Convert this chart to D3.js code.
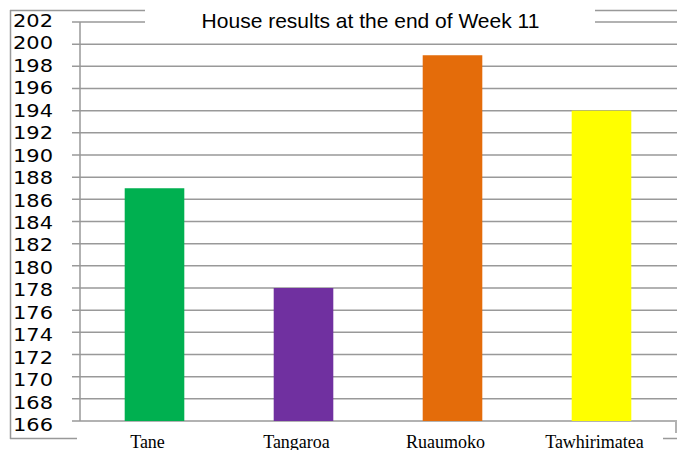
<!DOCTYPE html>
<html>
<head>
<meta charset="utf-8">
<script src="https://cdn.jsdelivr.net/npm/d3@7"></script>
<style>
  body { margin: 0; background: #fff; }
</style>
</head>
<body>
<div id="chart"></div>
<script>
// Data
const houses = ['Tane', 'Tangaroa', 'Ruaumoko', 'Tawhirimatea']
const points = [187, 178, 199, 194]
const colors = ['#00b050', '#7030a0', '#e46c0a', '#ffff00']
const yTicks = d3.range(166, 203, 2)
const title = 'House results at the end of Week 11'

// Dimensions
const width = 677
const height = 450
const plot = { left: 80, right: 676, top: 22, bottom: 421 }
const gridColor = '#999'

const svg = d3.select('#chart')
  .append('svg')
  .attr('width', width)
  .attr('height', height)

// Scales
const xScale = d3.scaleBand()
  .domain(houses)
  .range([plot.left, plot.right])
  .paddingInner(0.6)
  .paddingOuter(0.3)

const yScale = d3.scaleLinear()
  .domain([166, 202])
  .range([plot.bottom, plot.top])

// the tick labels sit on a slightly different spacing than the grid
const labelScale = d3.scaleLinear()
  .domain([166, 202])
  .range([431, 27])

// outer frame (only parts of it show)
const frame = svg.append('g')
  .attr('stroke', gridColor)
  .attr('stroke-width', 1.5)
frame.append('line').attr('x1', 10).attr('x2', 677).attr('y1', 10.5).attr('y2', 10.5)
frame.append('line').attr('x1', 10.5).attr('x2', 10.5).attr('y1', 10).attr('y2', 439)
frame.append('line').attr('x1', 10).attr('x2', 677).attr('y1', 438.5).attr('y2', 438.5)
frame.append('line').attr('x1', 676).attr('x2', 676).attr('y1', 422).attr('y2', 433)

// gridlines + ticks
const grid = svg.append('g')
grid.selectAll('line.grid')
  .data(yTicks)
  .join('line')
  .attr('class', 'grid')
  .attr('x1', plot.left - 8)
  .attr('x2', width)
  .attr('y1', d => yScale(d))
  .attr('y2', d => yScale(d))
  .attr('stroke', gridColor)
  .attr('stroke-width', 1.5)

// y axis line
svg.append('line')
  .attr('x1', plot.left)
  .attr('x2', plot.left)
  .attr('y1', yScale(202))
  .attr('y2', yScale(166))
  .attr('stroke', gridColor)
  .attr('stroke-width', 1.5)

// bars
svg.append('g')
  .selectAll('rect')
  .data(points)
  .join('rect')
  .attr('x', (d, i) => xScale(houses[i]))
  .attr('width', xScale.bandwidth())
  .attr('y', d => yScale(d))
  .attr('height', d => yScale(166) - yScale(d))
  .attr('fill', (d, i) => colors[i])

// y tick labels
svg.append('g')
  .selectAll('text')
  .data(yTicks)
  .join('text')
  .attr('x', 13)
  .attr('y', d => labelScale(d))
  .attr('textLength', 40)
  .attr('lengthAdjust', 'spacingAndGlyphs')
  .style('font-family', 'DejaVu Sans, sans-serif')
  .style('font-size', '17px')
  .attr('fill', '#000')
  .text(d => d)

// title box hides the frame and top grid line behind it
svg.append('rect')
  .attr('x', 145).attr('y', 0)
  .attr('width', 450).attr('height', 33)
  .attr('fill', '#fff')
svg.append('text')
  .attr('x', 370.5)
  .attr('y', 28)
  .attr('text-anchor', 'middle')
  .style('font-family', 'Liberation Sans, Arial, sans-serif')
  .style('font-size', '21px')
  .attr('fill', '#000')
  .text(title)

// category label box
svg.append('rect')
  .attr('x', 77).attr('y', 424)
  .attr('width', 586).attr('height', 26)
  .attr('fill', '#fff')
svg.append('g')
  .selectAll('text')
  .data(houses)
  .join('text')
  .attr('x', d => xScale(d) + xScale.bandwidth() / 2 - 7)
  .attr('y', 448)
  .attr('text-anchor', 'middle')
  .style('font-family', 'Liberation Serif, Times New Roman, serif')
  .style('font-size', '18px')
  .attr('fill', '#000')
  .text(d => d)
</script>
</body>
</html>
